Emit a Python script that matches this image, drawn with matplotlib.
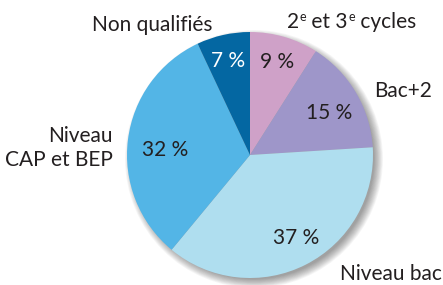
import matplotlib
matplotlib.use("Agg")
import matplotlib.pyplot as plt
from matplotlib.patches import Circle

plt.rcParams['font.family'] = ['Lato', 'DejaVu Sans']

categories = ["2e et 3e cycles", "Bac+2", "Niveau bac", "Niveau\nCAP et BEP", "Non qualifiés"]
values = [9, 15, 37, 32, 7]
pct_labels = ["9 %", "15 %", "37 %", "32 %", "7 %"]
colors = ["#CFA1C8", "#9E96C9", "#AFDEEF", "#53B5E6", "#0467A2"]
pct_colors = ["#231F20", "#231F20", "#231F20", "#231F20", "white"]

W, H = 443, 285
fig = plt.figure(figsize=(W/100, H/100), dpi=100)
ax = fig.add_axes([0, 0, 1, 1])

cx, cy, r = 250, H - 155, 123

# soft blurred shadow
n = 12
for i in range(n):
    rr = r + 6 - i * 0.8
    ax.add_patch(Circle((cx + 4, cy - 4), rr, color='black', alpha=0.035, lw=0, zorder=1))

wedges, _ = ax.pie(values, colors=colors, startangle=90, counterclock=False,
                   center=(cx, cy), radius=r, frame=True,
                   wedgeprops=dict(linewidth=0, zorder=2))
ax.set_xlim(0, W)
ax.set_ylim(0, H)
ax.set_aspect('equal')
ax.axis('off')

FS = 15
TC = '#231F20'
pct_pos = [(277, 62), (329, 113), (296, 238), (165, 150), (228, 61)]
for (x, y), t, c in zip(pct_pos, pct_labels, pct_colors):
    ax.text(x, H - y, t, ha='center', va='center', fontsize=FS, color=c, zorder=5)

lab_pos = [(287, 22, 'left'), (374, 91, 'left'), (340, 274, 'left'), (113, 148, 'right'), (213, 25, 'right')]
renderer = fig.canvas.get_renderer()
for (x, y, ha), t in zip(lab_pos, categories):
    if t == "2e et 3e cycles":
        pieces = [("2", False), ("e", True), (" et 3", False), ("e", True), (" cycles", False)]
        xx = x
        for s, sup in pieces:
            if sup:
                tt = ax.text(xx + 0.5, H - y + 5, s, ha='left', va='center', fontsize=9, color=TC, zorder=5)
            else:
                tt = ax.text(xx, H - y, s, ha='left', va='center', fontsize=FS, color=TC, zorder=5)
            bb = tt.get_window_extent(renderer=renderer)
            xx += bb.width + (0.5 if sup else 0)
        continue
    ax.text(x, H - y, t, ha=ha, va='center', fontsize=FS, color=TC,
            linespacing=1.2, multialignment='right' if ha == 'right' else 'left', zorder=5)

fig.savefig("out.png", dpi=100)
